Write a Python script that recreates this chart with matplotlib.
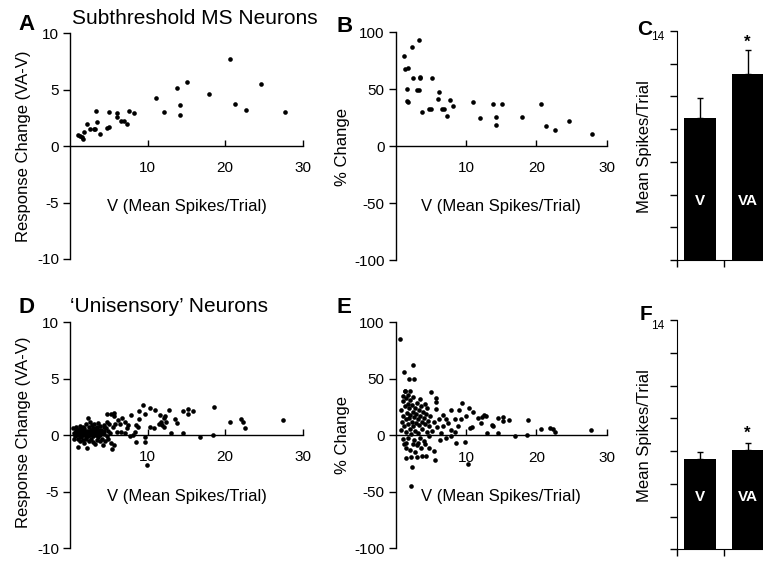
import numpy as np
import matplotlib
matplotlib.use("Agg")
import matplotlib.pyplot as plt

plt.rcParams['font.family'] = ['Liberation Sans', 'DejaVu Sans']
plt.rcParams['axes.unicode_minus'] = False

# ---- data ----
# A / B : subthreshold multisensory neurons
a_v = [0.99, 1.29, 1.55, 1.67, 1.80, 2.23, 2.58, 3.05, 3.26, 3.30, 3.52, 3.82,
       4.72, 5.02, 5.02, 6.05, 6.09, 6.61, 6.91, 7.34, 7.64, 8.20, 11.1, 12.06,
       13.8, 14.2, 14.2, 15.1, 17.9, 20.6, 21.3, 22.7, 24.6, 27.7]
a_diff = [0.95, 0.89, 0.77, 0.65, 1.21, 1.98, 1.54, 1.54, 1.54, 3.08, 2.13, 1.12,
          1.60, 1.69, 2.99, 2.54, 2.96, 2.25, 2.25, 1.95, 3.08, 2.93, 4.26, 2.99,
          5.12, 3.61, 2.72, 5.68, 4.59, 7.72, 3.76, 3.22, 5.47, 3.02]

b_v = [1.14, 1.33, 1.75, 1.56, 1.66, 1.71, 2.27, 2.51, 2.99, 3.27, 3.27, 3.51,
       3.51, 3.79, 4.69, 4.98, 5.12, 6.11, 6.07, 6.64, 6.92, 7.35, 7.68, 8.20,
       11.04, 11.99, 13.84, 14.2, 14.2, 15.07, 17.96, 20.6, 21.3, 22.7, 24.6, 27.9]
b_pct = [79.5, 67.7, 68.3, 49.9, 39.6, 38.7, 86.8, 59.5, 49.3, 49.3, 93.0, 61.0,
         60.1, 29.9, 32.8, 32.8, 59.5, 47.5, 41.3, 32.8, 32.8, 26.4, 40.5, 35.2,
         38.4, 24.6, 36.7, 25.2, 18.8, 37.2, 25.2, 36.7, 17.3, 13.8, 22.0, 10.3]

# D / E : 'unisensory' neurons
d_v = [0.4, 0.5, 0.6, 0.7, 0.8, 0.9, 1.0, 1.0, 1.1, 1.2, 1.2, 1.3, 1.4, 1.4,
       1.5, 1.6, 1.6, 1.7, 1.8, 1.8, 1.9, 2.0, 2.0, 2.1, 2.2, 2.2, 2.3, 2.3,
       2.4, 2.4, 2.5, 2.6, 2.6, 2.7, 2.7, 2.8, 2.9, 2.9, 3.0, 3.0, 3.1, 3.2,
       3.2, 3.3, 3.4, 3.4, 3.5, 3.6, 3.6, 3.7, 3.8, 3.8, 3.9, 4.0, 4.1, 4.2,
       4.2, 4.3, 4.4, 4.5, 4.6, 4.7, 4.8, 4.9, 4.9, 5.0, 5.1, 5.2, 5.3, 5.4,
       5.5, 5.6, 5.7, 5.8, 6.0, 6.2, 6.4, 6.6, 6.7, 7.1, 7.1, 7.3, 7.5, 7.7,
       7.8, 8.1, 8.3, 8.5, 8.5, 8.8, 8.9, 8.9, 9.4, 9.7, 9.7, 9.7, 9.9, 10.3,
       10.3, 10.8, 11.0, 11.4, 11.7, 11.6, 11.9, 12.1, 12.1, 12.2, 12.3, 12.7,
       13.0, 13.5, 13.8, 14.5, 14.6, 15.2, 15.2, 15.9, 16.8, 18.4, 18.6, 20.6,
       22.0, 22.3, 22.5, 27.5, 1.05, 4.7, 5.6,
       0.6, 0.8, 1.1, 1.3, 1.5, 1.7, 1.9, 2.1, 2.3, 2.5, 2.8, 3.1, 3.3, 3.5,
       3.7, 4.0, 4.3, 0.5, 0.9, 1.2, 1.6, 2.0, 2.4, 2.7, 3.0, 3.4, 3.9, 4.4]
d_diff = [0.6, 0.2, -0.1, 0.4, 0.7, 0.0, 0.3, -0.3, 0.5, 0.1, -0.5, 0.8, 0.2, -0.2,
          0.5, -0.4, 0.0, 0.3, 0.6, -0.7, 0.1, 1.0, -0.3, 0.4, -1.1, 0.2, 1.5, -0.1,
          0.7, -0.5, 0.3, 0.0, 1.2, -0.3, 0.5, 0.9, -0.6, 0.2, 0.6, -0.1, 1.0, -0.8,
          0.3, 0.0, 0.7, -0.4, 0.4, 1.1, -0.2, 0.2, -0.5, 0.8, 0.0, 0.5, -0.3, -0.9,
          0.3, 0.9, 0.1, -0.5, 0.6, 1.2, -0.1, 0.4, -0.3, 1.0, 0.2, -0.7, 1.9, -1.2,
          0.7, 1.7, -0.9, 1.0, 0.3, 1.3, 1.0, 0.3, 1.5, 1.2, 0.15, 0.6, 0.9, -0.05,
          1.8, 0.05, 0.3, 0.9, -0.6, 0.7, 2.1, 1.4, 2.7, 1.9, -0.2, -0.65, -2.65, 2.4,
          0.7, 0.65, 2.2, 1.0, 1.2, 1.8, 0.9, 0.7, 1.5, 1.7, 1.2, 2.2,
          0.2, 1.4, 1.1, 2.1, 0.2, 2.3, 1.9, 2.1, -0.2, 0.0, 2.5, 1.2,
          1.4, 1.2, 0.6, 1.3, -1.03, 1.9, 1.98,
          0.1, 0.4, 0.2, -0.1, 0.2, 0.5, 0.3, -0.2, 0.4, 0.1, 0.3, 0.4, 0.6, 0.1,
          0.5, 0.2, 0.4, -0.3, 0.5, 0.6, 0.7, 0.2, 0.1, 0.2, 0.3, 0.2, 0.4, 0.7]

e_v = [0.7, 0.8, 0.9, 1.0, 1.0, 1.1, 1.1, 1.2, 1.2, 1.3, 1.3, 1.4, 1.4, 1.4,
       1.5, 1.5, 1.5, 1.6, 1.7, 1.7, 1.8, 1.8, 1.9, 1.9, 2.0, 2.0, 2.1, 2.1,
       2.2, 2.2, 2.3, 2.3, 2.4, 2.4, 2.5, 2.5, 2.6, 2.6, 2.7, 2.8, 2.8, 2.9,
       2.9, 3.0, 3.0, 3.0, 3.1, 3.2, 3.2, 3.3, 3.3, 3.4, 3.5, 3.5, 3.6, 3.6,
       3.7, 3.7, 3.8, 3.9, 4.0, 4.0, 4.1, 4.1, 4.2, 4.3, 4.3, 4.4, 4.5, 4.6,
       4.7, 4.8, 4.8, 4.9, 5.07, 5.1, 5.4, 5.5, 5.6, 5.7, 5.7, 5.8, 5.9, 6.1,
       6.3, 6.4, 6.7, 6.7, 7.1, 7.2, 7.5, 7.9, 7.9, 7.9, 8.4, 8.5, 8.6, 8.9,
       9.0, 9.3, 9.4, 9.8, 10.0, 10.3, 10.4, 10.5, 10.9, 11.0, 11.7, 12.1, 12.3,
       12.5, 12.9, 13.0, 13.7, 13.9, 14.5, 14.6, 15.2, 15.3, 16.1, 17.0, 18.6,
       18.8, 20.7, 22.0, 22.4, 22.7, 27.7, 0.66, 1.13, 2.46, 1.9, 2.56, 1.32,
       1.99, 2.22, 2.36]
e_pct = [5, 22, 12, 30, -3, 35, 17, 8, -8, 26, 39, 14, -11, -20,
         33, 3, -7, 20, 10, 28, 36, -2, 15, 24, 6, -13, 31, 18,
         1, -19, 12, 27, 21, -8, 8, 34, 16, -4, 24, 4, -15, 19,
         11, 29, -9, -19, 14, 2, -7, 22, 9, 32, 17, -2, 26, -11,
         12, -18, 6, 21, 15, -5, 28, -8, 10, 19, -18, 3, 24, 13,
         -1, 8, -11, 17, 38.7, 4, -14, 12, -21.6, 33.4, 29.8, 23, 7, 14,
         -4, 2, 18, 8, -2.5, 14, 11, 22.5, 5, -0.4, 2.5, 14, -7, 8,
         22.5, 14, 29, -5.5, 17, -25.4, 24, 6.6, 7.2, 20.5, 15, 11, 16,
         18, 17, 2, 9.3, 7.8, 2, 15, 16, 13, 13.7, -1, 0.2,
         13.7, 5.7, 6.3, 5.7, 2.8, 4.9, 85.2, 55.8, 62.2, 49.6, 50.1, 39.3,
         39.3, -45.2, -28.1]

conds = ['V', 'VA']
c_mean = [8.66, 11.37]
c_err = [1.22, 1.47]
f_mean = [5.53, 6.04]
f_err = [0.43, 0.47]

W, H = 763, 562
fig = plt.figure(figsize=(W / 100, H / 100), dpi=100)


def px_axes(l, t, r, b):
    return fig.add_axes([l / W, 1 - b / H, (r - l) / W, (b - t) / H])


def px_text(x, y, s, **kw):
    fig.text(x / W, 1 - y / H, s, **kw)


def scatter_panel(ax, x, y, lim, step):
    ax.scatter(x, y, s=11, color='black', linewidths=0, zorder=3)
    ax.set_xlim(0, 30)
    ax.set_ylim(-lim, lim)
    ax.spines['top'].set_visible(False)
    ax.spines['right'].set_visible(False)
    ax.spines['bottom'].set_position(('data', 0))
    for s in ['left', 'bottom']:
        ax.spines[s].set_linewidth(1.0)
    ax.set_xticks([10, 20, 30])
    ax.set_yticks(np.arange(-lim, lim + 1, step))
    ax.tick_params(axis='x', direction='in', length=4, width=1, pad=11, labelsize=11)
    ax.tick_params(axis='y', direction='out', length=5, width=1, pad=3, labelsize=11)
    ax.patch.set_alpha(0)


def bar_panel(ax, means, errs, label_y, star_y):
    xs = np.arange(len(conds))
    ax.bar(xs, means, width=0.68, color='black', zorder=2)
    ax.errorbar(xs, means, yerr=[[0, 0], errs], fmt='none', ecolor='black',
                elinewidth=1, capsize=2, capthick=1, zorder=1)
    for xi, c in zip(xs, conds):
        ax.text(xi, label_y, c, color='white', fontsize=11, fontweight='bold',
                ha='center', va='center', zorder=4)
    ax.text(1, star_y, '*', fontsize=12, fontweight='bold', ha='center', va='center')
    ax.set_xlim(-0.5, 1.5)
    ax.set_ylim(0, 14)
    ax.set_xticks([-0.5, 0.5, 1.5])
    ax.set_xticklabels([])
    ax.set_yticks(range(0, 15, 2))
    ax.set_yticklabels([''] * 7 + ['14'])
    ax.spines['top'].set_visible(False)
    ax.spines['right'].set_visible(False)
    ax.tick_params(axis='both', direction='out', length=5, width=1, pad=4, labelsize=8.5)
    for lab in ax.get_yticklabels():
        lab.set_verticalalignment('top')


axA = px_axes(70.2, 33.3, 302.7, 259)
scatter_panel(axA, a_v, a_diff, 10, 5)
axB = px_axes(395.7, 32.3, 606.7, 260)
scatter_panel(axB, b_v, b_pct, 100, 50)
axC = px_axes(676.7, 31, 771.3, 260)
bar_panel(axC, c_mean, c_err, 3.6, 13.3)

axD = px_axes(70.2, 322.3, 302.7, 548)
scatter_panel(axD, d_v, d_diff, 10, 5)
axE = px_axes(395.7, 322.3, 606.7, 548.3)
scatter_panel(axE, e_v, e_pct, 100, 50)
axF = px_axes(676.7, 320, 771.3, 549.3)
bar_panel(axF, f_mean, f_err, 3.2, 7.1)

# panel letters
for lx, ly, s in [(18, 30, 'A'), (336, 32, 'B'), (18, 313, 'D'), (336, 313, 'E')]:
    px_text(lx, ly, s, fontsize=16, fontweight='bold', ha='left', va='baseline')
for rx, ly, s in [(652, 35, 'C'), (652, 320, 'F')]:
    px_text(rx, ly, s, fontsize=15, fontweight='bold', ha='right', va='baseline')

# titles
px_text(72, 24, 'Subthreshold MS Neurons', fontsize=15, ha='left', va='baseline')
px_text(70, 312, '\u2018Unisensory\u2019 Neurons', fontsize=15, ha='left', va='baseline')

# axis labels
for cx, cy, s in [(24, 146, 'Response Change (VA-V)'), (343, 147, '% Change'),
                  (645, 147, 'Mean Spikes/Trial'), (24, 432, 'Response Change (VA-V)'),
                  (343, 435, '% Change'), (645, 436, 'Mean Spikes/Trial')]:
    px_text(cx, cy, s, fontsize=12, rotation=90, ha='center', va='center')

for cx, cy in [(187, 207), (501, 207), (187, 497), (501, 497)]:
    px_text(cx, cy, 'V (Mean Spikes/Trial)', fontsize=12, ha='center', va='center')

fig.savefig('out.png', dpi=100)
